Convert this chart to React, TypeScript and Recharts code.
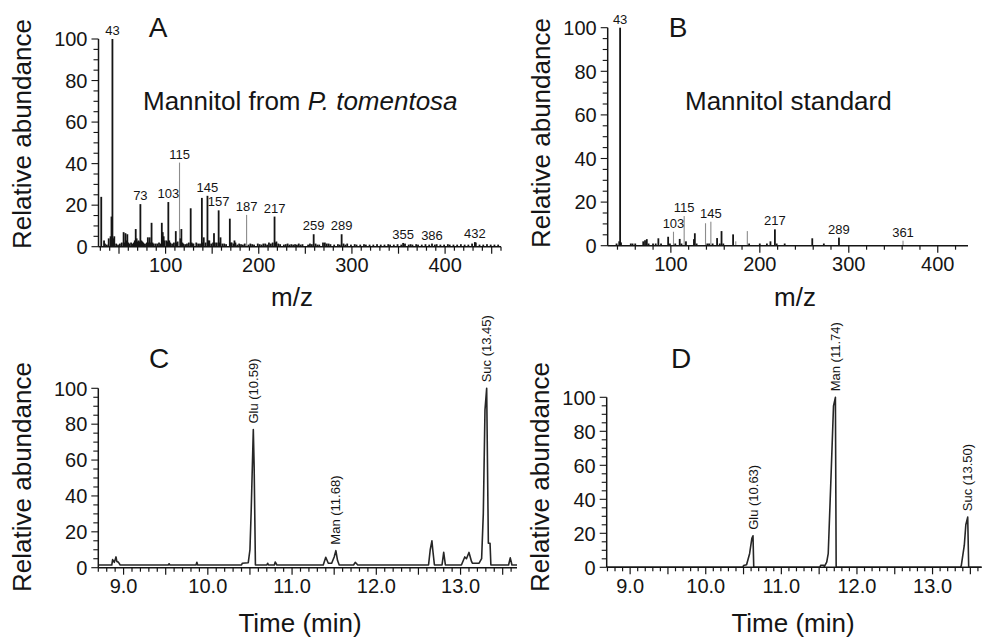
import React from 'react';
import { BarChart, Bar, LineChart, Line, XAxis, YAxis, LabelList } from 'recharts';

const FONT = '"Liberation Sans", Arial, Helvetica, sans-serif';
const INK = '#151515';
const GRAY = '#8c8c8c';

// ---------------- Panel A : Mannitol from P. tomentosa (mass spectrum)
const A_MZ = [31, 34, 39, 41, 42, 43, 44, 45, 53, 55, 57, 59, 61, 63, 67, 68, 69, 71, 73, 74, 75, 77, 81, 83, 85, 87, 89, 93, 96, 97, 98, 99, 101, 103, 104, 105, 109, 111, 113, 115, 116, 117, 119, 127, 129, 139, 141, 145, 147, 152, 157, 159, 169, 174, 187, 217, 259, 269, 289, 355, 386, 432];
const A_INT = [24, 3, 4, 5, 14.5, 100, 4, 5, 2, 7, 6.5, 6, 1.5, 2, 3, 8.5, 4, 3, 20.5, 3, 2.5, 1.5, 4.5, 4.5, 11.5, 1.5, 1.5, 2, 11.5, 7, 5, 3, 3, 21.5, 3, 2, 2, 7.5, 2.5, 40.5, 4, 8.5, 1.5, 18.5, 1.5, 23.5, 4.5, 24.5, 3, 6.5, 17.5, 4.5, 13.5, 3, 15.3, 14.5, 6, 2, 6, 1.8, 1.5, 2.2];
const A_NOISE_MZ = [35, 37, 47, 49, 51, 56, 58, 60, 65, 66, 70, 72, 76, 79, 80, 82, 84, 86, 91, 95, 102, 107, 112, 118, 121, 123, 125, 128, 130, 133, 135, 137, 140, 143, 146, 149, 151, 153, 155, 158, 161, 163, 165, 170, 171, 173, 175, 177, 179, 181, 183, 185, 189, 191, 193, 195, 199, 201, 203, 205, 207, 209, 211, 213, 215, 218, 219, 221, 223, 227, 229, 231, 233, 235, 237, 239, 241, 243, 245, 247, 253, 255, 257, 261, 263, 265, 271, 273, 275, 277, 281, 285, 287, 291, 293, 295, 299, 303, 305, 309, 313, 315, 319, 323, 327, 331, 335, 339, 341, 345, 349, 353, 357, 361, 363, 365, 369, 371, 375, 379, 383, 389, 391, 395, 399, 403, 405, 409, 413, 417, 421, 425, 429, 433, 437, 441, 445, 449, 453, 457];
const A_NOISE_INT = [1.5, 1, 1.5, 1, 1.5, 2, 3, 2, 1.5, 2, 2.5, 2.5, 2, 1.5, 2, 2, 2, 2, 1.5, 1.5, 2.5, 1.5, 2, 2, 1.2, 1.5, 2, 2, 1.5, 2, 1.5, 1.5, 2, 2, 3, 1.5, 2, 2, 2, 2, 1.5, 1.5, 1.2, 2, 2, 1.5, 2, 1, 1.5, 1.2, 1, 1.5, 1, 1.5, 1.2, 1, 1.5, 1.2, 1, 1.5, 1.5, 1, 2, 1.5, 2, 2, 2.5, 1.5, 1.2, 1, 1.2, 1.5, 1, 1.2, 1, 1.2, 1, 1.5, 1, 1.2, 1, 1.5, 1.2, 1.5, 1, 1, 2, 1.5, 1.5, 1.2, 1, 1.2, 1, 1.5, 1, 1.5, 1, 1.2, 1, 1, 1.2, 1, 1, 1, 1.2, 1, 1, 1.2, 1, 1, 1.2, 1, 1.5, 1, 1.2, 1, 1.2, 1, 1, 1.2, 1, 1, 1.2, 1, 1, 1.2, 1, 1, 1, 1.2, 1, 1, 1.5, 2, 1, 1, 1.2, 1, 1, 1];
const A_LABELED = [43, 73, 103, 115, 145, 157, 187, 217, 259, 289, 355, 386, 432];
const A_GRAY = [115, 187];
const A_X_LABELS = [100, 200, 300, 400];

// ---------------- Panel B : Mannitol standard (mass spectrum)
const B_MZ = [39, 42, 43, 44, 55, 57, 60, 69, 71, 73, 75, 80, 83, 86, 89, 97, 99, 103, 105, 110, 112, 115, 117, 126, 127, 129, 139, 141, 143, 145, 147, 152, 155, 157, 159, 170, 173, 186, 188, 200, 208, 212, 217, 219, 228, 259, 272, 289, 361];
const B_INT = [1, 2, 100, 1.5, 1, 1, 1, 2, 2.5, 3, 1, 1, 1, 3.4, 1, 4.1, 1, 6.4, 1, 3.1, 1, 13.6, 2, 3, 5.7, 1, 10.3, 1, 1, 11, 1, 3.5, 1, 6.7, 1, 5.2, 2, 6.7, 1, 1, 1, 2, 7.5, 1, 1, 3.4, 1, 3.7, 2.3];
const B_LABELED = [43, 103, 115, 145, 217, 289, 361];
const B_GRAY = [103, 115, 139, 145, 173, 186, 361];
const B_X_LABELS = [100, 200, 300, 400];

// ---------------- Panel C : P. tomentosa extract chromatogram
const C_TIME = [8.70, 8.86, 8.87, 8.89, 8.90, 8.91, 8.92, 8.94, 8.96, 9.53, 9.54, 9.55, 9.86, 9.87, 9.88, 10.40, 10.41, 10.48, 10.50, 10.515, 10.54, 10.55, 10.565, 10.70, 10.71, 10.72, 10.79, 10.80, 10.82, 11.37, 11.40, 11.43, 11.47, 11.50, 11.52, 11.54, 11.56, 11.73, 11.75, 11.78, 12.62, 12.64, 12.66, 12.67, 12.69, 12.78, 12.80, 12.82, 13.01, 13.05, 13.07, 13.10, 13.13, 13.14, 13.22, 13.25, 13.27, 13.29, 13.31, 13.33, 13.35, 13.36, 13.57, 13.59, 13.61, 13.67];
const C_ABUND = [1.5, 1.5, 4.5, 3, 4.5, 6, 3.5, 3, 1.5, 1.5, 2.2, 1.5, 1.5, 3, 1.5, 1.5, 2.5, 2.8, 10, 32, 77, 56, 1.5, 1.5, 2.5, 1.5, 1.5, 3.2, 1.5, 1.5, 5.8, 2.5, 2.5, 6, 9.5, 4, 1.5, 1.5, 3, 1.5, 1.5, 10, 15, 10, 1.5, 1.5, 8.6, 1.5, 1.5, 6, 5, 8.5, 3.5, 2.5, 2.5, 5, 30, 88, 100, 13.6, 13.6, 1.5, 1.5, 5.5, 1.5, 1.5];
const C_PEAK_TIMES = [10.54, 11.52, 13.31];
const C_PEAK_NAMES = ['Glu (10.59)', 'Man (11.68)', 'Suc (13.45)'];

// ---------------- Panel D : standards chromatogram
const D_TIME = [8.69, 10.49, 10.50, 10.54, 10.58, 10.61, 10.625, 10.635, 11.51, 11.52, 11.56, 11.57, 11.60, 11.62, 11.66, 11.69, 11.715, 11.725, 13.37, 13.38, 13.42, 13.44, 13.465, 13.478, 13.65];
const D_ABUND = [0, 0, 1, 1.5, 8, 17, 18.5, 0, 0, 1.2, 1.2, 0.5, 3, 8, 57, 95, 100, 0, 0, 1, 13, 25, 29.5, 0, 0];
const D_PEAK_TIMES = [10.625, 11.715, 13.465];
const D_PEAK_NAMES = ['Glu (10.63)', 'Man (11.74)', 'Suc (13.50)'];

const TIME_LABELS = [9.0, 10.0, 11.0, 12.0, 13.0];
const Y_LABELS = [0, 20, 40, 60, 80, 100];

// ---------------- helpers
const range = (a: number, b: number, step: number) => {
  const out: number[] = [];
  for (let i = 0; a + i * step <= b + 1e-9; i++) out.push(Math.round((a + i * step) * 1000) / 1000);
  return out;
};
const near = (list: number[], v: number) => list.some((m) => Math.abs(m - v) < 1e-6);
const isMult = (v: number, m: number) => Math.abs(v / m - Math.round(v / m)) < 1e-6;

const buildSpectrum = (mz: number[], it: number[], nmz: number[], nit: number[], labeled: number[]) => {
  const rows = mz.map((m, i) => ({ mz: m, v: it[i] })).concat(nmz.map((m, i) => ({ mz: m, v: nit[i] })));
  rows.sort((a, b) => a.mz - b.mz);
  return rows.map((r) => ({ ...r, label: labeled.includes(r.mz) ? String(r.mz) : undefined }));
};
const buildTrace = (t: number[], v: number[], peaks: number[], names: string[]) =>
  t.map((x, i) => {
    const k = peaks.indexOf(x);
    return { t: x, v: v[i], label: k >= 0 ? names[k] : undefined };
  });

const A_DATA = buildSpectrum(A_MZ, A_INT, A_NOISE_MZ, A_NOISE_INT, A_LABELED);
const B_DATA = buildSpectrum(B_MZ, B_INT, [], [], B_LABELED);
const C_DATA = buildTrace(C_TIME, C_ABUND, C_PEAK_TIMES, C_PEAK_NAMES);
const D_DATA = buildTrace(D_TIME, D_ABUND, D_PEAK_TIMES, D_PEAK_NAMES);

const makeXTick = (majorStep: number, labels: number[], decimals: number) => (props: any) => {
  const { x, y, payload } = props;
  const v = payload.value as number;
  const major = isMult(v, majorStep);
  return (
    <g>
      <line x1={x} x2={x} y1={y} y2={y + (major ? 7 : 4)} stroke={INK} strokeWidth={1.2} />
      {near(labels, v) && (
        <text x={x} y={y + 11} dy="0.72em" textAnchor="middle" fontSize={20} fill={INK} fontFamily={FONT}>
          {v.toFixed(decimals)}
        </text>
      )}
    </g>
  );
};

const YTick = (props: any) => {
  const { x, y, payload } = props;
  const v = payload.value as number;
  const major = near(Y_LABELS, v);
  return (
    <g>
      <line x1={x - (major ? 7 : 5)} x2={x} y1={y} y2={y} stroke={INK} strokeWidth={1.1} />
      {major && (
        <text x={x - 11} y={y} dy="0.36em" textAnchor="end" fontSize={20} fill={INK} fontFamily={FONT}>
          {v}
        </text>
      )}
    </g>
  );
};

const yTitle = (bx: number, cy: number) => () => (
  <text x={bx} y={cy} transform={`rotate(-90 ${bx} ${cy})`} textAnchor="middle" fontSize={26} fill={INK} fontFamily={FONT}>
    Relative abundance
  </text>
);
const xTitle = (text: string, cx: number, by: number) => () => (
  <text x={cx} y={by} textAnchor="middle" fontSize={26} fill={INK} fontFamily={FONT}>
    {text}
  </text>
);

const makeSpecBar = (grayList: number[]) => (props: any) => {
  const { x, y, width, height, payload } = props;
  if (!isFinite(x) || !isFinite(y)) return <g />;
  const gray = grayList.includes(payload.mz);
  const w = gray ? 1.1 : 1.8;
  const cx = x + width / 2;
  return <rect x={cx - w / 2} y={y} width={w} height={Math.max(height, 0)} fill={gray ? GRAY : INK} />;
};

const BarPeakLabel = (props: any) => {
  const { value } = props;
  if (value === undefined || value === null || value === '') return null;
  const vb = props.viewBox || props;
  const x = (vb.x ?? props.x) + (vb.width ?? props.width ?? 0) / 2;
  const y = vb.y ?? props.y;
  return (
    <text x={x} y={y - 4} textAnchor="middle" fontSize={13} fill={INK} fontFamily={FONT}>
      {value}
    </text>
  );
};

const RotPeakLabel = (props: any) => {
  const { value } = props;
  if (value === undefined || value === null || value === '') return null;
  const vb = props.viewBox || props;
  const x = (vb.x ?? props.x) + 4.6;
  const y = (vb.y ?? props.y) - 6;
  return (
    <text x={x} y={y} transform={`rotate(-90 ${x} ${y})`} textAnchor="start" fontSize={13} fill={INK} fontFamily={FONT}>
      {value}
    </text>
  );
};

const Y_TICKS = range(0, 100, 5);
const axisLine = { stroke: INK, strokeWidth: 1.5 };

const PanelLetter = ({ x, y, t }: { x: number; y: number; t: string }) => (
  <text x={x} y={y} textAnchor="middle" fontSize={28} fill={INK} fontFamily={FONT}>
    {t}
  </text>
);

export default function App() {
  return (
    <div style={{ position: 'absolute', left: 0, top: 0, width: 982, height: 640, background: '#fff', overflow: 'hidden' }}>
      {/* C */}
      <div style={{ position: 'absolute', left: 0, top: 310 }}>
        <LineChart width={520} height={330} data={C_DATA} margin={{ top: 78.3, right: 3, bottom: 42.3, left: 0 }}>
          <XAxis type="number" dataKey="t" domain={[8.7, 13.67]} allowDataOverflow ticks={range(8.7, 13.6, 0.1)} interval={0}
            tick={makeXTick(0.5, TIME_LABELS, 1)} tickLine={false} tickSize={0} tickMargin={0} axisLine={axisLine} height={30}
            label={xTitle('Time (min)', 300, 322)} />
          <YAxis type="number" domain={[0, 100]} ticks={Y_TICKS} interval={0} width={98.3} tick={YTick} tickLine={false}
            tickSize={0} tickMargin={0} axisLine={axisLine} label={yTitle(30.5, 167)} />
          <Line type="linear" dataKey="v" stroke="#262626" strokeWidth={1.6} strokeLinejoin="round" dot={false} isAnimationActive={false}>
            <LabelList dataKey="label" content={RotPeakLabel} />
          </Line>
          <PanelLetter x={159} y={58} t="C" />
        </LineChart>
      </div>
      {/* D */}
      <div style={{ position: 'absolute', left: 500, top: 310 }}>
        <LineChart width={482} height={330} data={D_DATA} margin={{ top: 87.3, right: 0.3, bottom: 42.7, left: 0 }}>
          <XAxis type="number" dataKey="t" domain={[8.69, 13.65]} allowDataOverflow ticks={range(8.7, 13.6, 0.1)} interval={0}
            tick={makeXTick(0.5, TIME_LABELS, 1)} tickLine={false} tickSize={0} tickMargin={0} axisLine={axisLine} height={30}
            label={xTitle('Time (min)', 293, 322)} />
          <YAxis type="number" domain={[0, 100]} ticks={Y_TICKS} interval={0} width={106.7} tick={YTick} tickLine={false}
            tickSize={0} tickMargin={0} axisLine={axisLine} label={yTitle(48.5, 167)} />
          <Line type="linear" dataKey="v" stroke="#262626" strokeWidth={1.6} strokeLinejoin="round" dot={false} isAnimationActive={false}>
            <LabelList dataKey="label" content={RotPeakLabel} />
          </Line>
          <PanelLetter x={181} y={58} t="D" />
        </LineChart>
      </div>
      {/* A */}
      <div style={{ position: 'absolute', left: 0, top: 0 }}>
        <BarChart width={520} height={318} data={A_DATA} margin={{ top: 39, right: 19, bottom: 41.3, left: 0 }} barSize={2}>
          <XAxis type="number" dataKey="mz" domain={[28, 460]} allowDataOverflow ticks={range(30, 460, 10)} interval={0}
            tick={makeXTick(50, A_X_LABELS, 0)} tickLine={false} tickSize={0} tickMargin={0} axisLine={axisLine} height={30}
            label={xTitle('m/z', 292, 306)} />
          <YAxis type="number" domain={[0, 100]} ticks={Y_TICKS} interval={0} width={98.5} tick={YTick} tickLine={false}
            tickSize={0} tickMargin={0} axisLine={axisLine} label={yTitle(30.5, 134)} />
          <Bar dataKey="v" isAnimationActive={false} shape={makeSpecBar(A_GRAY)}>
            <LabelList dataKey="label" content={BarPeakLabel} />
          </Bar>
          <PanelLetter x={158} y={37} t="A" />
          <text x={143} y={110} fontSize={26} fill={INK} fontFamily={FONT}>
            Mannitol from <tspan fontStyle="italic">P. tomentosa</tspan>
          </text>
        </BarChart>
      </div>
      {/* B */}
      <div style={{ position: 'absolute', left: 500, top: 0 }}>
        <BarChart width={482} height={318} data={B_DATA} margin={{ top: 27.7, right: 14, bottom: 42.3, left: 0 }} barSize={2}>
          <XAxis type="number" dataKey="mz" domain={[29, 434]} allowDataOverflow ticks={range(40, 420, 20)} interval={0}
            tick={makeXTick(100, B_X_LABELS, 0)} tickLine={false} tickSize={0} tickMargin={0} axisLine={axisLine} height={30}
            label={xTitle('m/z', 295, 306)} />
          <YAxis type="number" domain={[0, 100]} ticks={Y_TICKS} interval={0} width={107.7} tick={YTick} tickLine={false}
            tickSize={0} tickMargin={0} axisLine={axisLine} label={yTitle(49.5, 133)} />
          <Bar dataKey="v" isAnimationActive={false} shape={makeSpecBar(B_GRAY)}>
            <LabelList dataKey="label" content={BarPeakLabel} />
          </Bar>
          <PanelLetter x={178} y={37} t="B" />
          <text x={185} y={110} fontSize={26} fill={INK} fontFamily={FONT}>
            Mannitol standard
          </text>
        </BarChart>
      </div>
    </div>
  );
}
